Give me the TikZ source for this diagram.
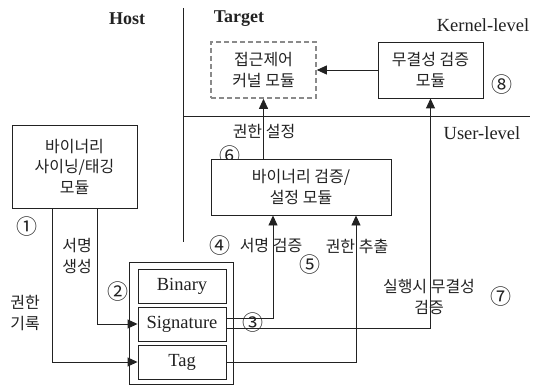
\documentclass[tikz,border=0pt]{standalone}
\usepackage{fontspec}
\setmainfont{Liberation Serif}
\newfontfamily\kr{Noto Sans CJK KR}
\usetikzlibrary{arrows.meta}
\definecolor{ink}{HTML}{222222}
\definecolor{dashgray}{HTML}{8A8A8A}
\begin{document}
\begin{tikzpicture}[x=1pt,y=-1pt,
  box/.style={draw=ink, line width=0.9pt, fill=white, inner sep=0pt, align=center, text=ink, font=\kr\fontsize{16}{20.5}\selectfont},
  dbox/.style={box, draw=dashgray, line width=1.6pt, dash pattern=on 5pt off 3pt},
  lbox/.style={draw=ink, line width=0.9pt, fill=white, inner sep=0pt, text=ink, font=\fontsize{18.5}{20}\selectfont},
  lat/.style={inner sep=0pt, text=ink, font=\fontsize{18.5}{20}\selectfont},
  hdr/.style={inner sep=0pt, text=ink, font=\bfseries\fontsize{18}{20}\selectfont},
  lbl/.style={inner sep=0pt, align=center, text=ink, font=\kr\fontsize{16}{20.5}\selectfont},
  num/.style={inner sep=0pt, text=ink, font=\kr\fontsize{21}{21}\selectfont},
  ln/.style={draw=ink, line width=0.9pt},
  arr/.style={ln, -{Triangle[length=10pt,width=9pt]}}]
\useasboundingbox (0,0) rectangle (535,385);

% dividers
\coordinate (vtop) at (183,8);
\coordinate (vbot) at (183,242);
\coordinate (hl) at (183,116);
\coordinate (hr) at (530,116);
\draw[ln] (vtop) -- (vbot);
\draw[ln] (hl) -- (hr);

% headers
\node[hdr] (host) at (127,19) {Host};
\node[hdr] (target) at (239,19) {Target};
\node[lat] (kl) at (483,25) {Kernel-level};
\node[lat] (ul) at (482,133) {User-level};

% kernel boxes
\node[dbox, minimum width=105, minimum height=56] (kmod) at (263.5,70) {접근제어\\커널 모듈};
\node[box, minimum width=105, minimum height=56] (integ) at (430.5,70) {무결성 검증\\모듈};
\node[num] (n8) at (502,85) {⑧};

% host signing box
\node[box, minimum width=125, minimum height=83] (sign) at (74.5,166.5) {바이너리\\사이닝/태깅\\모듈};
\node[num] (n1) at (27,227) {①};

% verification
\node[num] (n6) at (230,156) {⑥};
\node[box, minimum width=180, minimum height=56] (verif) at (301,187) {바이너리 검증/\\설정 모듈};

% package
\node[draw=ink, line width=0.9pt, minimum width=104, minimum height=122, inner sep=0pt] (pkg) at (181,323) {};
\node[lbox, minimum width=88, minimum height=34] (bin) at (182,286) {Binary};
\node[lbox, minimum width=88, minimum height=34] (sig) at (182,324) {Signature};
\node[lbox, minimum width=88, minimum height=34] (tag) at (182,362) {Tag};

% connectors
\draw[arr] (integ.west) -- (kmod.east);
\draw[arr] (kmod.south |- verif.north) -- (kmod.south);
\draw[arr] ([xshift=22.5pt]sign.south) |- (sig.west);
\draw[arr] ([xshift=-22.5pt]sign.south) |- (tag.west);
\draw[arr] ([yshift=6pt]sig.east) -| ([xshift=-28pt]verif.south);
\draw[arr] ([yshift=-4pt]sig.east) -| (integ.south);
\draw[arr] (tag.east) -| ([xshift=55pt]verif.south);

% labels
\node[lbl] (l6) at (264,132) {권한 설정};
\node[lbl] (lsg) at (77,256) {서명\\생성};
\node[lbl] (lgr) at (25,313) {권한\\기록};
\node[num] (n2) at (118,292) {②};
\node[num] (n3) at (253,323) {③};
\node[num] (n4) at (220,246) {④};
\node[lbl] (lv) at (271,246) {서명 검증};
\node[lbl] (le) at (357,246) {권한 추출};
\node[num] (n5) at (310,265) {⑤};
\node[lbl] (lr) at (429,297) {실행시 무결성\\검증};
\node[num] (n7) at (501,297) {⑦};
\end{tikzpicture}
\end{document}
